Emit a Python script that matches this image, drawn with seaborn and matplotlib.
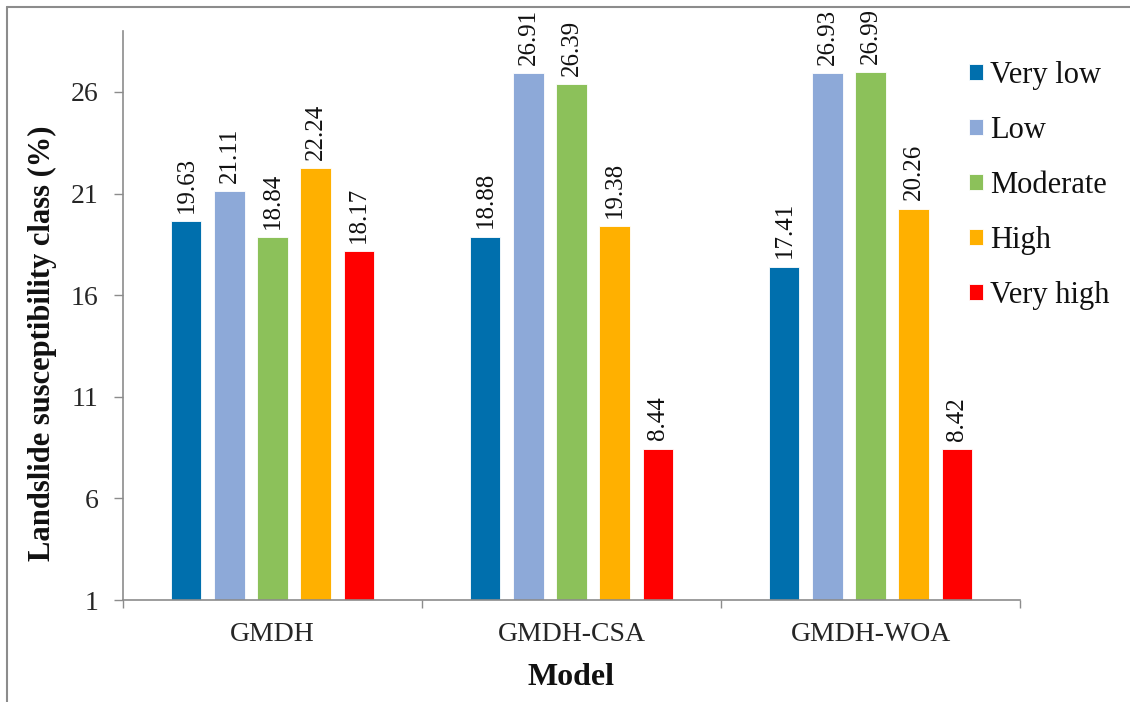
import matplotlib
matplotlib.use("Agg")
import matplotlib.pyplot as plt
import seaborn as sns
import pandas as pd
from matplotlib.patches import Patch
from matplotlib.lines import Line2D

# Susceptibility class shares (%) per model
models = ["GMDH", "GMDH-CSA", "GMDH-WOA"]
classes = ["Very low", "Low", "Moderate", "High", "Very high"]
very_low = [19.63, 18.88, 17.41]
low = [21.11, 26.91, 26.93]
moderate = [18.84, 26.39, 26.99]
high = [22.24, 19.38, 20.26]
very_high = [18.17, 8.44, 8.42]
colors = ["#006FAD", "#8DA9D8", "#8CC15A", "#FFB000", "#FF0000"]
yticks = [1, 6, 11, 16, 21, 26]

series = [very_low, low, moderate, high, very_high]
rows = []
for cls, vals in zip(classes, series):
    for m, v in zip(models, vals):
        rows.append({"Model": m, "Class": cls, "Value": v})
df = pd.DataFrame(rows)

sns.set_theme(style="white")
plt.rcParams["font.family"] = ["Liberation Serif", "DejaVu Serif"]

W, H = 1130, 702
fig = plt.figure(figsize=(W / 100, H / 100), dpi=100)
ax = fig.add_axes([123 / W, 1 - 600 / H, (1020 - 123) / W, (600 - 31) / H])

sns.barplot(data=df, x="Model", y="Value", hue="Class", hue_order=classes,
            order=models, palette=colors, width=0.72, gap=0.3,
            saturation=1, errorbar=None, legend=False, ax=ax,
            edgecolor="white", linewidth=0.6)

for cont in ax.containers:
    ax.bar_label(cont, labels=[f"{b.get_height():.2f}" for b in cont],
                 rotation=90, padding=6, fontsize=18, color="#111111")

ax.set_ylim(1, 29)
ax.set_xlim(-0.5, 2.5)
ax.set_yticks(yticks)
ax.set_yticklabels([str(t) for t in yticks], fontsize=20)
ax.set_xticks([0, 1, 2])
ax.set_xticklabels(models, fontsize=20)
ax.tick_params(axis="x", length=0, pad=16)
ax.tick_params(axis="y", length=6.5, width=1, color="#8c8c8c", pad=11, direction="out", left=True)

# category boundary ticks below the x axis
ax.set_xticks([-0.5, 0.5, 1.5, 2.5], minor=True)
ax.tick_params(axis="x", which="minor", length=6, width=1, color="#8c8c8c", direction="out", bottom=True)

for s in ["top", "right"]:
    ax.spines[s].set_visible(False)
for s in ["left", "bottom"]:
    ax.spines[s].set_color("#8c8c8c")
    ax.spines[s].set_linewidth(1.2)

ax.set_xlabel("Model", fontsize=23, fontweight="bold", color="#111111")
ax.set_ylabel("Landslide susceptibility class (%)", fontsize=22, fontweight="bold", color="#111111")
ax.xaxis.set_label_coords(0.5, (600 - 663) / 569)
ax.yaxis.set_label_coords((57 - 123) / 897, (600 - 343) / 569)

handles = [Patch(facecolor=c, edgecolor="white", linewidth=0.6) for c in colors]
leg = fig.legend(handles, classes, loc="upper left",
                 bbox_to_anchor=(969 / W, 1 - 61 / H),
                 frameon=False, fontsize=22, handlelength=0.45, handleheight=0.45,
                 handletextpad=0.25, labelspacing=0.85, borderpad=0, borderaxespad=0)
for t in leg.get_texts():
    t.set_color("#111111")

# outer frame lines along the top and left edges
fig.add_artist(Line2D([7 / W, 7 / W], [0, 1 - 7 / H], transform=fig.transFigure,
                      color="#8c8c8c", linewidth=1.5))
fig.add_artist(Line2D([7 / W, 1], [1 - 7 / H, 1 - 7 / H], transform=fig.transFigure,
                      color="#8c8c8c", linewidth=1.5))

fig.savefig("out.png", dpi=100)
